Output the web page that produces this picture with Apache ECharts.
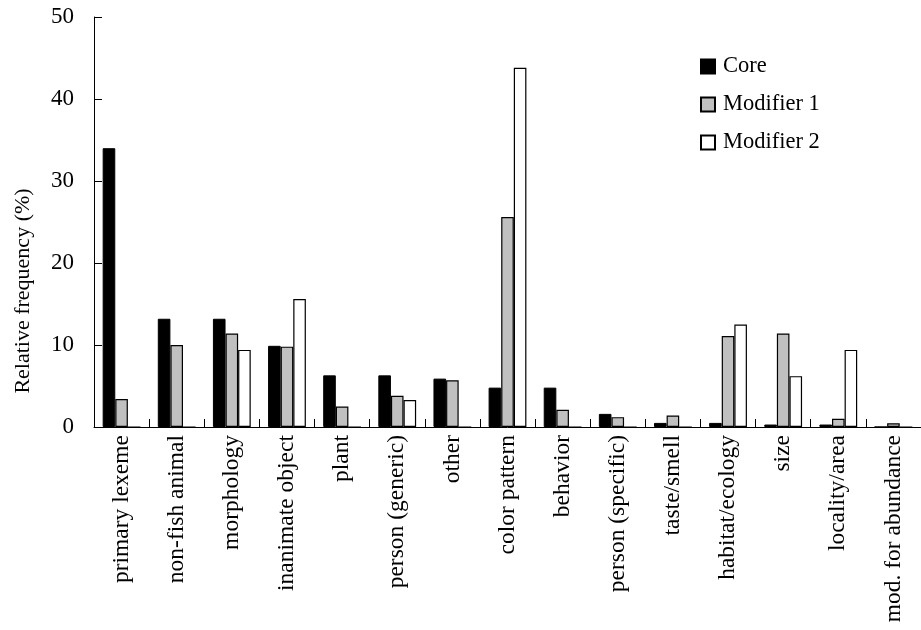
<!DOCTYPE html>
<html>
<head>
<meta charset="utf-8">
<script src="https://cdn.jsdelivr.net/npm/echarts@6/dist/echarts.min.js"></script>
<style>html,body{margin:0;padding:0;background:#fff;}#c{width:921px;height:630px;}</style>
</head>
<body>
<div id="c"></div>
<script>
const categories = ["primary lexeme","non-fish animal","morphology","inanimate object","plant","person (generic)","other","color pattern","behavior","person (specific)","taste/smell","habitat/ecology","size","locality/area","mod. for abundance"];
const coreValues = [34.0, 13.2, 13.2, 9.9, 6.3, 6.3, 5.9, 4.8, 4.8, 1.6, 0.5, 0.5, 0.3, 0.3, 0];
const modifier1Values = [3.4, 10.0, 11.4, 9.8, 2.5, 3.8, 5.7, 25.6, 2.1, 1.2, 1.4, 11.1, 11.4, 1.0, 0.45];
const modifier2Values = [0, 0, 9.4, 15.6, 0, 3.3, 0, 43.8, 0, 0, 0, 12.5, 6.2, 9.4, 0];
const yTicks = [0, 10, 20, 30, 40, 50];

const FONT = "Liberation Serif";
const chart = echarts.init(document.getElementById('c'), null, {renderer: 'canvas'});
const barCommon = {
  type: 'bar', barWidth: 12.6, barGap: '0%',
  animation: false
};
chart.setOption({
  backgroundColor: '#fff',
  animation: false,
  textStyle: {fontFamily: FONT, color: '#000'},
  grid: {left: 94, top: 17, bottom: 203, width: 838, containLabel: false},
  legend: {
    orient: 'vertical', left: 695, top: 50, icon: 'rect',
    itemWidth: 14, itemHeight: 14, itemGap: 15,
    textStyle: {fontFamily: FONT, fontSize: 22.5, color: '#000', padding: [0,0,0,3]},
    data: ['Core', 'Modifier 1', 'Modifier 2']
  },
  xAxis: {
    type: 'category', data: categories,
    axisLine: {lineStyle: {color: '#000', width: 1}},
    axisTick: {show: true, inside: true, length: 8, lineStyle: {color: '#000'}},
    axisLabel: {rotate: 90, interval: 0, fontFamily: FONT, fontSize: 23.5, color: '#000', margin: 8}
  },
  yAxis: {
    type: 'value', min: yTicks[0], max: yTicks[yTicks.length-1], interval: 10,
    splitLine: {show: false},
    axisLine: {show: true, lineStyle: {color: '#000', width: 1}},
    axisTick: {show: true, inside: true, length: 8, lineStyle: {color: '#000'}},
    axisLabel: {fontFamily: FONT, fontSize: 23, color: '#000', margin: 20}
  },
  graphic: [{
    type: 'text', x: 23, y: 291, rotation: Math.PI / 2,
    style: {text: 'Relative frequency (%)', fontFamily: FONT, fontSize: 22, fill: '#000', align: 'center', verticalAlign: 'middle'}
  }],
  series: [
    Object.assign({}, barCommon, {name: 'Core', data: coreValues, itemStyle: {color: '#000', borderColor: '#000', borderWidth: 1}}),
    Object.assign({}, barCommon, {name: 'Modifier 1', data: modifier1Values, itemStyle: {color: '#c0c0c0', borderColor: '#000', borderWidth: 1.2}}),
    Object.assign({}, barCommon, {name: 'Modifier 2', data: modifier2Values, itemStyle: {color: '#fff', borderColor: '#000', borderWidth: 1.2}})
  ]
});
</script>
</body>
</html>
